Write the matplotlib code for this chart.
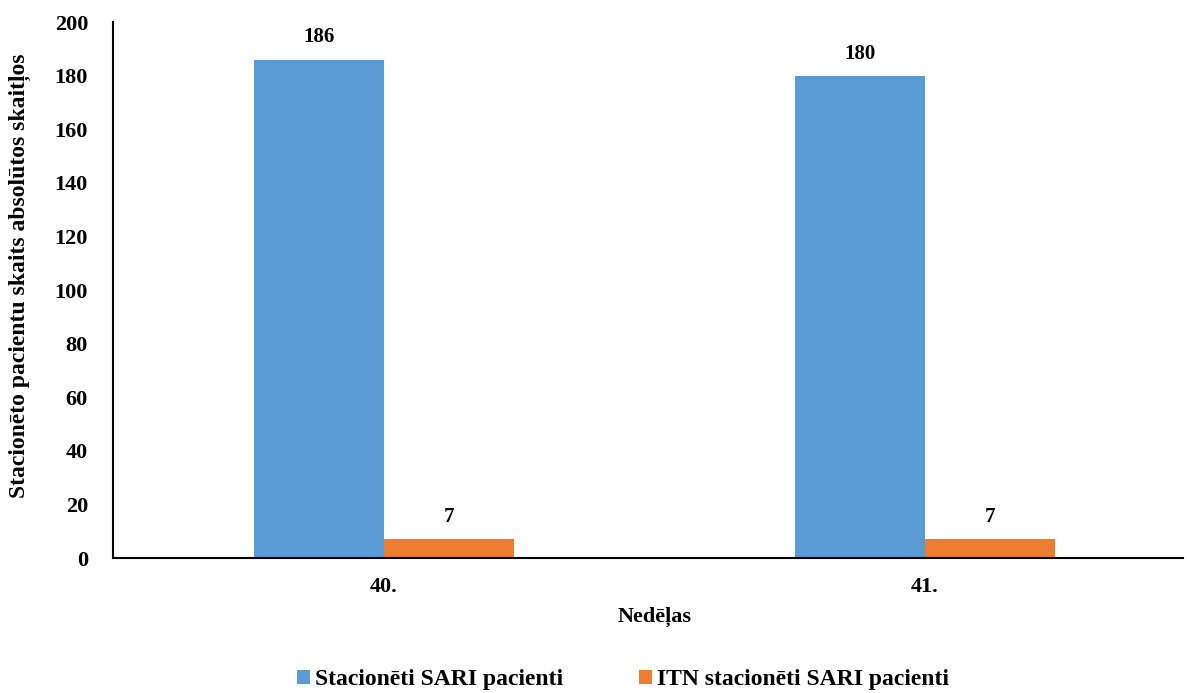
import numpy as np
import matplotlib.pyplot as plt

# Data
weeks = ["40.", "41."]
sari = [186, 180]
itn_sari = [7, 7]
series_names = ["Stacionēti SARI pacienti", "ITN stacionēti SARI pacienti"]

plt.rcParams['font.family'] = ['Liberation Serif', 'DejaVu Serif']
plt.rcParams['font.weight'] = 'bold'

fig = plt.figure(figsize=(11.87, 6.93), dpi=100)
ax = fig.add_axes([113 / 1187, 1 - 558 / 693, (1183 - 113) / 1187, (558 - 22) / 693])

x = np.arange(len(weeks))
w = 0.24
b1 = ax.bar(x - w / 2, sari, w, color='#5B9BD5', label=series_names[0])
b2 = ax.bar(x + w / 2, itn_sari, w, color='#ED7D31', label=series_names[1])

# value labels above bars
for bars in (b1, b2):
    for r in bars:
        ax.text(r.get_x() + r.get_width() / 2, r.get_height() + 4.5, str(int(r.get_height())),
                ha='center', va='bottom', fontsize=15, fontweight='bold')

ax.set_xlim(-0.5, 1.477)
ax.set_ylim(0, 200)
ax.set_yticks(range(0, 201, 20))
ax.set_xticks(x)
ax.set_xticklabels(weeks)
ax.tick_params(length=0, labelsize=16)
ax.tick_params(axis='y', pad=18)
ax.tick_params(axis='x', pad=14)

for s in ['top', 'right']:
    ax.spines[s].set_visible(False)
ax.spines['left'].set_linewidth(1.5)
ax.spines['bottom'].set_linewidth(1.5)

ax.set_xlabel("Nedēļas", fontsize=16, fontweight='bold')
ax.xaxis.set_label_coords((655 - 113) / (1183 - 113), -(617 - 558) / (558 - 22))
ax.set_ylabel("Stacionēto pacientu skaits absolūtos skaitļos", fontsize=17, fontweight='bold')
ax.yaxis.set_label_coords(-(113 - 20) / (1183 - 113), (558 - 276) / (558 - 22))
ax.xaxis.label.set_va('center')
ax.yaxis.label.set_va('center')

fig.legend(loc='center', bbox_to_anchor=(623 / 1187, 1 - 680 / 693), ncol=2, frameon=False,
           fontsize=17, handlelength=0.55, handleheight=0.55, handletextpad=0.2,
           columnspacing=3.2, borderaxespad=0, borderpad=0)

fig.savefig("out.png", dpi=100)
